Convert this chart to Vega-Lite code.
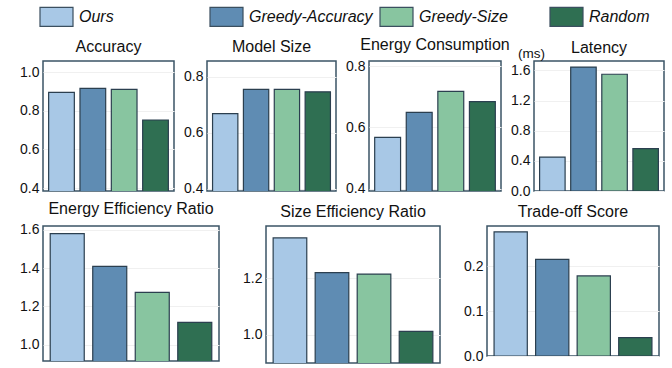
{
  "$schema": "https://vega.github.io/schema/vega-lite/v6.json",
  "padding": {"left": 18, "top": 6, "right": 5, "bottom": 5},
  "background": "white",
  "datasets": {
    "d": [
      {"metric": "Accuracy", "method": "Ours", "value": 0.895},
      {"metric": "Accuracy", "method": "Greedy-Accuracy", "value": 0.915},
      {"metric": "Accuracy", "method": "Greedy-Size", "value": 0.91},
      {"metric": "Accuracy", "method": "Random", "value": 0.752},
      {"metric": "Model Size", "method": "Ours", "value": 0.668},
      {"metric": "Model Size", "method": "Greedy-Accuracy", "value": 0.755},
      {"metric": "Model Size", "method": "Greedy-Size", "value": 0.755},
      {"metric": "Model Size", "method": "Random", "value": 0.746},
      {"metric": "Energy Consumption", "method": "Ours", "value": 0.567},
      {"metric": "Energy Consumption", "method": "Greedy-Accuracy", "value": 0.649},
      {"metric": "Energy Consumption", "method": "Greedy-Size", "value": 0.718},
      {"metric": "Energy Consumption", "method": "Random", "value": 0.684},
      {"metric": "Latency", "method": "Ours", "value": 0.451},
      {"metric": "Latency", "method": "Greedy-Accuracy", "value": 1.645},
      {"metric": "Latency", "method": "Greedy-Size", "value": 1.55},
      {"metric": "Latency", "method": "Random", "value": 0.563},
      {"metric": "Energy Efficiency Ratio", "method": "Ours", "value": 1.579},
      {"metric": "Energy Efficiency Ratio", "method": "Greedy-Accuracy", "value": 1.409},
      {"metric": "Energy Efficiency Ratio", "method": "Greedy-Size", "value": 1.273},
      {"metric": "Energy Efficiency Ratio", "method": "Random", "value": 1.117},
      {"metric": "Size Efficiency Ratio", "method": "Ours", "value": 1.343},
      {"metric": "Size Efficiency Ratio", "method": "Greedy-Accuracy", "value": 1.22},
      {"metric": "Size Efficiency Ratio", "method": "Greedy-Size", "value": 1.215},
      {"metric": "Size Efficiency Ratio", "method": "Random", "value": 1.013},
      {"metric": "Trade-off Score", "method": "Ours", "value": 0.276},
      {"metric": "Trade-off Score", "method": "Greedy-Accuracy", "value": 0.215},
      {"metric": "Trade-off Score", "method": "Greedy-Size", "value": 0.178},
      {"metric": "Trade-off Score", "method": "Random", "value": 0.041}
    ]
  },
  "data": {"name": "d"},
  "config": {
    "font": "Liberation Sans",
    "view": {"stroke": "#3b5466", "strokeWidth": 1.5},
    "title": {"fontSize": 16, "fontWeight": "normal", "font": "Liberation Sans", "color": "#111111", "offset": 6, "anchor": "middle"},
    "axis": {"labelFontSize": 14, "labelColor": "#111111", "labelFont": "Liberation Sans", "ticks": false, "labelPadding": 4, "domain": false, "grid": true, "gridColor": "#f0f0f0", "gridWidth": 1},
    "bar": {"stroke": "#2b3f4f", "strokeWidth": 1.2}
  },
  "vconcat": [
    {
      "hconcat": [
        {
          "title": "Accuracy",
          "width": 131, "height": 130,
          "transform": [{"filter": "datum.metric === 'Accuracy'"}],
          "mark": {"type": "bar", "clip": true},
          "encoding": {
            "x": {"field": "method", "type": "nominal", "sort": ["Ours", "Greedy-Accuracy", "Greedy-Size", "Random"], "axis": null, "scale": {"paddingInner": 0.18, "paddingOuter": 0.18}},
            "y": {"field": "value", "type": "quantitative", "scale": {"domain": [0.385, 1.057]}, "axis": {"values": [0.4, 0.6, 0.8, 1.0], "format": ".1f", "title": null}},
            "color": {"field": "method", "type": "nominal", "scale": {"domain": ["Ours", "Greedy-Accuracy", "Greedy-Size", "Random"], "range": ["#a8c8e6", "#5f8cb3", "#88c5a0", "#2f6f52"]}, "legend": {"title": null, "orient": "none", "direction": "horizontal", "columns": 4, "gridAlign": "all", "columnPadding": 4, "legendX": 3, "legendY": -55, "symbolType": "M-1.737,-1H1.737V1H-1.737Z", "symbolSize": 361, "symbolStrokeColor": "#3b4f5f", "symbolStrokeWidth": 1.2, "symbolOpacity": 1, "labelFontSize": 16, "labelFont": "Liberation Sans", "labelFontStyle": "italic", "labelColor": "#111111", "labelOffset": 12, "labelLimit": 300, "encode": {"labels": {"update": {"fontWeight": {"signal": "datum.value === 'Ours' ? 'bold' : 'normal'"}}}}}}
          }
        },
        {
          "title": "Model Size",
          "width": 129, "height": 130,
          "transform": [{"filter": "datum.metric === 'Model Size'"}],
          "mark": {"type": "bar", "clip": true},
          "encoding": {
            "x": {"field": "method", "type": "nominal", "sort": ["Ours", "Greedy-Accuracy", "Greedy-Size", "Random"], "axis": null, "scale": {"paddingInner": 0.18, "paddingOuter": 0.18}},
            "y": {"field": "value", "type": "quantitative", "scale": {"domain": [0.392, 0.856]}, "axis": {"values": [0.4, 0.6, 0.8], "format": ".1f", "title": null}},
            "color": {"field": "method", "type": "nominal", "legend": {"title": null, "orient": "none", "direction": "horizontal", "columns": 4, "gridAlign": "all", "columnPadding": 4, "legendX": 3, "legendY": -55, "symbolType": "M-1.737,-1H1.737V1H-1.737Z", "symbolSize": 361, "symbolStrokeColor": "#3b4f5f", "symbolStrokeWidth": 1.2, "symbolOpacity": 1, "labelFontSize": 16, "labelFont": "Liberation Sans", "labelFontStyle": "italic", "labelColor": "#111111", "labelOffset": 12, "labelLimit": 300, "encode": {"labels": {"update": {"fontWeight": {"signal": "datum.value === 'Ours' ? 'bold' : 'normal'"}}}}}}
          }
        },
        {
          "title": "Energy Consumption",
          "width": 132, "height": 130,
          "transform": [{"filter": "datum.metric === 'Energy Consumption'"}],
          "mark": {"type": "bar", "clip": true},
          "encoding": {
            "x": {"field": "method", "type": "nominal", "sort": ["Ours", "Greedy-Accuracy", "Greedy-Size", "Random"], "axis": null, "scale": {"paddingInner": 0.18, "paddingOuter": 0.18}},
            "y": {"field": "value", "type": "quantitative", "scale": {"domain": [0.392, 0.817]}, "axis": {"values": [0.4, 0.6, 0.8], "format": ".1f", "title": null}},
            "color": {"field": "method", "type": "nominal", "legend": {"title": null, "orient": "none", "direction": "horizontal", "columns": 4, "gridAlign": "all", "columnPadding": 4, "legendX": 3, "legendY": -55, "symbolType": "M-1.737,-1H1.737V1H-1.737Z", "symbolSize": 361, "symbolStrokeColor": "#3b4f5f", "symbolStrokeWidth": 1.2, "symbolOpacity": 1, "labelFontSize": 16, "labelFont": "Liberation Sans", "labelFontStyle": "italic", "labelColor": "#111111", "labelOffset": 12, "labelLimit": 300, "encode": {"labels": {"update": {"fontWeight": {"signal": "datum.value === 'Ours' ? 'bold' : 'normal'"}}}}}}
          }
        },
        {
          "title": {"text": "Latency", "dy": 16},
          "width": 130, "height": 130,
          "transform": [{"filter": "datum.metric === 'Latency'"}],
          "mark": {"type": "bar", "clip": true},
          "encoding": {
            "x": {"field": "method", "type": "nominal", "sort": ["Ours", "Greedy-Accuracy", "Greedy-Size", "Random"], "axis": null, "scale": {"paddingInner": 0.18, "paddingOuter": 0.18}},
            "y": {"field": "value", "type": "quantitative", "scale": {"domain": [0, 1.726]}, "axis": {"values": [0, 0.4, 0.8, 1.2, 1.6], "format": ".1f", "title": "(ms)", "titleAngle": 0, "titleX": -3, "titleY": -1, "titleAlign": "center", "titleBaseline": "bottom", "titleFontSize": 13.5, "titleFontWeight": "normal", "titleColor": "#111111"}},
            "color": {"field": "method", "type": "nominal", "legend": {"title": null, "orient": "none", "direction": "horizontal", "columns": 4, "gridAlign": "all", "columnPadding": 4, "legendX": 3, "legendY": -55, "symbolType": "M-1.737,-1H1.737V1H-1.737Z", "symbolSize": 361, "symbolStrokeColor": "#3b4f5f", "symbolStrokeWidth": 1.2, "symbolOpacity": 1, "labelFontSize": 16, "labelFont": "Liberation Sans", "labelFontStyle": "italic", "labelColor": "#111111", "labelOffset": 12, "labelLimit": 300, "encode": {"labels": {"update": {"fontWeight": {"signal": "datum.value === 'Ours' ? 'bold' : 'normal'"}}}}}}
          }
        }
      ],
      "spacing": 33,
      "bounds": "flush"
    },
    {
      "hconcat": [
        {
          "title": "Energy Efficiency Ratio",
          "width": 176, "height": 135,
          "transform": [{"filter": "datum.metric === 'Energy Efficiency Ratio'"}],
          "mark": {"type": "bar", "clip": true},
          "encoding": {
            "x": {"field": "method", "type": "nominal", "sort": ["Ours", "Greedy-Accuracy", "Greedy-Size", "Random"], "axis": null, "scale": {"paddingInner": 0.2, "paddingOuter": 0.17}},
            "y": {"field": "value", "type": "quantitative", "scale": {"domain": [0.916, 1.619]}, "axis": {"values": [1.0, 1.2, 1.4, 1.6], "format": ".1f", "title": null}},
            "color": {"field": "method", "type": "nominal", "legend": {"title": null, "orient": "none", "direction": "horizontal", "columns": 4, "gridAlign": "all", "columnPadding": 4, "legendX": 3, "legendY": -55, "symbolType": "M-1.737,-1H1.737V1H-1.737Z", "symbolSize": 361, "symbolStrokeColor": "#3b4f5f", "symbolStrokeWidth": 1.2, "symbolOpacity": 1, "labelFontSize": 16, "labelFont": "Liberation Sans", "labelFontStyle": "italic", "labelColor": "#111111", "labelOffset": 12, "labelLimit": 300, "encode": {"labels": {"update": {"fontWeight": {"signal": "datum.value === 'Ours' ? 'bold' : 'normal'"}}}}}}
          }
        },
        {
          "title": "Size Efficiency Ratio",
          "width": 174, "height": 137,
          "transform": [{"filter": "datum.metric === 'Size Efficiency Ratio'"}],
          "mark": {"type": "bar", "clip": true},
          "encoding": {
            "x": {"field": "method", "type": "nominal", "sort": ["Ours", "Greedy-Accuracy", "Greedy-Size", "Random"], "axis": null, "scale": {"paddingInner": 0.2, "paddingOuter": 0.17}},
            "y": {"field": "value", "type": "quantitative", "scale": {"domain": [0.901, 1.385]}, "axis": {"values": [1.0, 1.2], "format": ".1f", "title": null}},
            "color": {"field": "method", "type": "nominal", "legend": {"title": null, "orient": "none", "direction": "horizontal", "columns": 4, "gridAlign": "all", "columnPadding": 4, "legendX": 3, "legendY": -55, "symbolType": "M-1.737,-1H1.737V1H-1.737Z", "symbolSize": 361, "symbolStrokeColor": "#3b4f5f", "symbolStrokeWidth": 1.2, "symbolOpacity": 1, "labelFontSize": 16, "labelFont": "Liberation Sans", "labelFontStyle": "italic", "labelColor": "#111111", "labelOffset": 12, "labelLimit": 300, "encode": {"labels": {"update": {"fontWeight": {"signal": "datum.value === 'Ours' ? 'bold' : 'normal'"}}}}}}
          }
        },
        {
          "title": "Trade-off Score",
          "width": 172, "height": 130,
          "transform": [{"filter": "datum.metric === 'Trade-off Score'"}],
          "mark": {"type": "bar", "clip": true},
          "encoding": {
            "x": {"field": "method", "type": "nominal", "sort": ["Ours", "Greedy-Accuracy", "Greedy-Size", "Random"], "axis": null, "scale": {"paddingInner": 0.2, "paddingOuter": 0.17}},
            "y": {"field": "value", "type": "quantitative", "scale": {"domain": [0, 0.289]}, "axis": {"values": [0, 0.1, 0.2], "format": ".1f", "title": null}},
            "color": {"field": "method", "type": "nominal", "legend": {"title": null, "orient": "none", "direction": "horizontal", "columns": 4, "gridAlign": "all", "columnPadding": 4, "legendX": 3, "legendY": -55, "symbolType": "M-1.737,-1H1.737V1H-1.737Z", "symbolSize": 361, "symbolStrokeColor": "#3b4f5f", "symbolStrokeWidth": 1.2, "symbolOpacity": 1, "labelFontSize": 16, "labelFont": "Liberation Sans", "labelFontStyle": "italic", "labelColor": "#111111", "labelOffset": 12, "labelLimit": 300, "encode": {"labels": {"update": {"fontWeight": {"signal": "datum.value === 'Ours' ? 'bold' : 'normal'"}}}}}}
          }
        }
      ],
      "spacing": 47,
      "bounds": "flush"
    }
  ],
  "spacing": 0,
  "resolve": {"scale": {"y": "independent", "x": "independent"}}
}
